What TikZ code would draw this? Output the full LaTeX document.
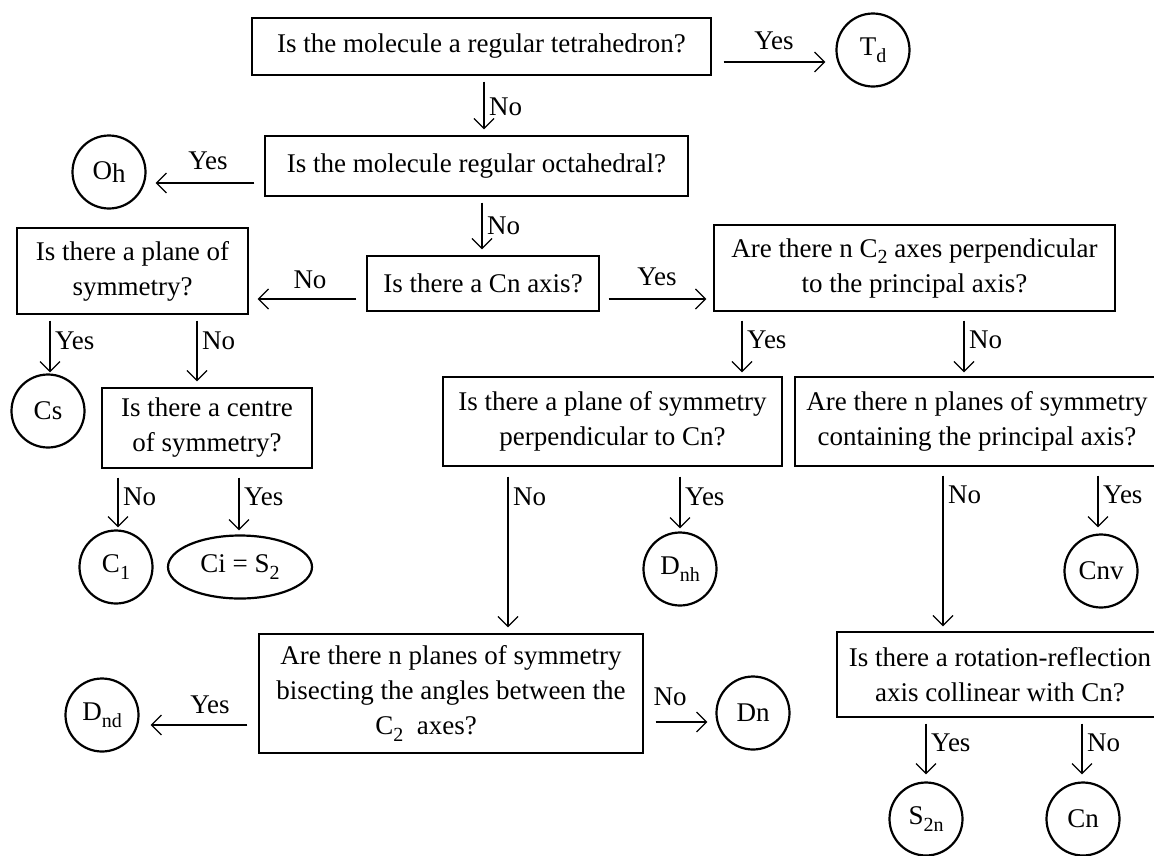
\documentclass[tikz,border=0pt]{standalone}
\usepackage{fontspec}
\setmainfont{Liberation Serif}
\usetikzlibrary{arrows.meta,shapes.geometric,calc}
\newcommand\qf{\fontsize{27}{35}\selectfont}
\newcommand\sbs[1]{\raisebox{-0.25em}{\fontsize{20}{20}\selectfont #1}}
\tikzset{
  qbox/.style={draw, line width=1.4pt, inner sep=0pt, align=center, font=\qf},
  res/.style={draw, circle, line width=2.2pt, minimum size=73pt, inner sep=0pt, font=\qf},
  arr/.style={line width=1.2pt, -{Straight Barb[length=10pt,width=20pt,line width=1.2pt]}, shorten <=6pt, shorten >=6pt},
  lbl/.style={font=\qf, inner sep=0pt},
}
\begin{document}
\begin{tikzpicture}[x=1pt,y=-1pt]
\useasboundingbox (0,0) rectangle (1154,855);
\clip (0,0) rectangle (1154,855);
\fill[white] (0,0) rectangle (1154,855);

% question boxes
\node[qbox, minimum width=459pt, minimum height=57pt] (q1) at (481.5,46.5) {Is the molecule a regular tetrahedron?};
\node[qbox, minimum width=423pt, minimum height=60pt] (q2) at (476.5,166) {Is the molecule regular octahedral?};
\node[qbox, minimum width=232pt, minimum height=55pt] (q3) at (483,283.5) {Is there a Cn axis?};
\node[qbox, minimum width=231pt, minimum height=86pt] (qpl) at (132.5,271) {Is there a plane of\\symmetry?};
\node[qbox, minimum width=401pt, minimum height=86pt] (qc2) at (914.5,268) {Are there n C\sbs{2} axes perpendicular\\to the principal axis?};
\node[qbox, minimum width=210pt, minimum height=80pt] (qce) at (207,428) {Is there a centre\\of symmetry?};
\node[qbox, minimum width=339pt, minimum height=89pt] (qpe) at (612.5,421.5) {Is there a plane of symmetry\\perpendicular to Cn?};
\node[qbox, minimum width=364pt, minimum height=89pt] (qnp) at (977,421.5) {Are there n planes of symmetry\\containing the principal axis?};
\node[qbox, minimum width=384pt, minimum height=119pt] (qbi) at (451,693.5) {Are there n planes of symmetry\\bisecting the angles between the\\C\sbs{2}\ \ axes?\hspace*{50pt}};
\node[qbox, minimum width=326pt, minimum height=85pt] (qro) at (1000,674.5) {Is there a rotation-reflection\\axis collinear with Cn?};

% results
\node[res] (Td) at (873,50) {T\sbs{d}};
\node[res] (Oh) at (109,172) {O\raisebox{-0.12em}{h}};
\node[res] (Cs) at (48,411) {Cs};
\node[res] (C1) at (116,567) {C\sbs{1}};
\node[draw, ellipse, line width=2.2pt, minimum width=144pt, minimum height=63pt, inner sep=0pt, font=\qf] (Ci) at (240,567) {Ci = S\sbs{2}};
\node[res] (Dnh) at (680,569) {D\sbs{nh}};
\node[res] (Cnv) at (1101,571) {Cnv};
\node[res] (Dnd) at (102,715) {D\sbs{nd}};
\node[res] (Dn) at (753,713) {Dn};
\node[res] (S2n) at (926,819) {S\sbs{2n}};
\node[res] (Cn) at (1083,819) {Cn};

% connectors
\draw[arr] (q1.south -| 484,0) -- (q2.north -| 484,0);
\node[lbl, anchor=west] (l1) at (489,107) {No};
\draw[arr, shorten <=12pt, shorten >=10pt] (q1.east |- 0,62) -- (Td.west |- 0,62);
\node[lbl] (l2) at (774,41) {Yes};
\draw[arr, shorten <=10pt, shorten >=9pt] (q2.west |- 0,183) -- (Oh.east |- 0,183);
\node[lbl] (l3) at (208,161) {Yes};
\draw[arr] (q2.south -| 482,0) -- (q3.north -| 482,0);
\node[lbl, anchor=west] (l4) at (487,226) {No};
\draw[arr, shorten <=10pt, shorten >=9pt] (q3.west |- 0,299) -- (qpl.east |- 0,299);
\node[lbl] (l5) at (310,280) {No};
\draw[arr, shorten <=9pt, shorten >=7pt] (q3.east |- 0,299) -- (qc2.west |- 0,299);
\node[lbl] (l6) at (657,277) {Yes};
\draw[arr, shorten >=1pt] (qpl.south -| 50,0) -- (Cs.north -| 50,0);
\node[lbl, anchor=west] (l7) at (55,341) {Yes};
\draw[arr] (qpl.south -| 197,0) -- (qce.north -| 197,0);
\node[lbl, anchor=west] (l8) at (202,341) {No};
\draw[arr, shorten <=9pt, shorten >=2pt] (qce.south -| 118,0) -- (C1.north -| 118,0);
\node[lbl, anchor=west] (l9) at (123,497) {No};
\draw[arr, shorten <=9pt, shorten >=4pt] (qce.south -| 239,0) -- (Ci.north -| 239,0);
\node[lbl, anchor=west] (l10) at (244,497) {Yes};
\draw[arr, shorten <=9pt, shorten >=4pt] (qc2.south -| 742,0) -- (qpe.north -| 742,0);
\node[lbl, anchor=west] (l11) at (747,340) {Yes};
\draw[arr, shorten <=9pt, shorten >=4pt] (qc2.south -| 964,0) -- (qnp.north -| 964,0);
\node[lbl, anchor=west] (l12) at (969,340) {No};
\draw[arr, shorten <=10pt] (qpe.south -| 508,0) -- (qbi.north -| 508,0);
\node[lbl, anchor=west] (l13) at (513,497) {No};
\draw[arr, shorten <=10pt, shorten >=3pt] (qpe.south -| 680,0) -- (Dnh.north -| 680,0);
\node[lbl, anchor=west] (l14) at (685,497) {Yes};
\draw[arr, shorten <=9pt, shorten >=5pt] (qnp.south -| 943,0) -- (qro.north -| 943,0);
\node[lbl, anchor=west] (l15) at (948,495) {No};
\draw[arr, shorten <=9pt, shorten >=6pt] (qnp.south -| 1098,0) -- (Cnv.north -| 1098,0);
\node[lbl, anchor=west] (l16) at (1103,495) {Yes};
\draw[arr, shorten <=11pt, shorten >=11pt] (qbi.west |- 0,725) -- (Dnd.east |- 0,725);
\node[lbl] (l17) at (210,705) {Yes};
\draw[arr, shorten <=12pt, shorten >=8pt] (qbi.east |- 0,722) -- (Dn.west |- 0,722);
\node[lbl] (l18) at (670,697) {No};
\draw[arr, shorten <=6pt, shorten >=7pt] (qro.south -| 926,0) -- (S2n.north -| 926,0);
\node[lbl, anchor=west] (l19) at (931,743) {Yes};
\draw[arr, shorten <=6pt, shorten >=7pt] (qro.south -| 1082,0) -- (Cn.north -| 1082,0);
\node[lbl, anchor=west] (l20) at (1087,743) {No};
\end{tikzpicture}
\end{document}
